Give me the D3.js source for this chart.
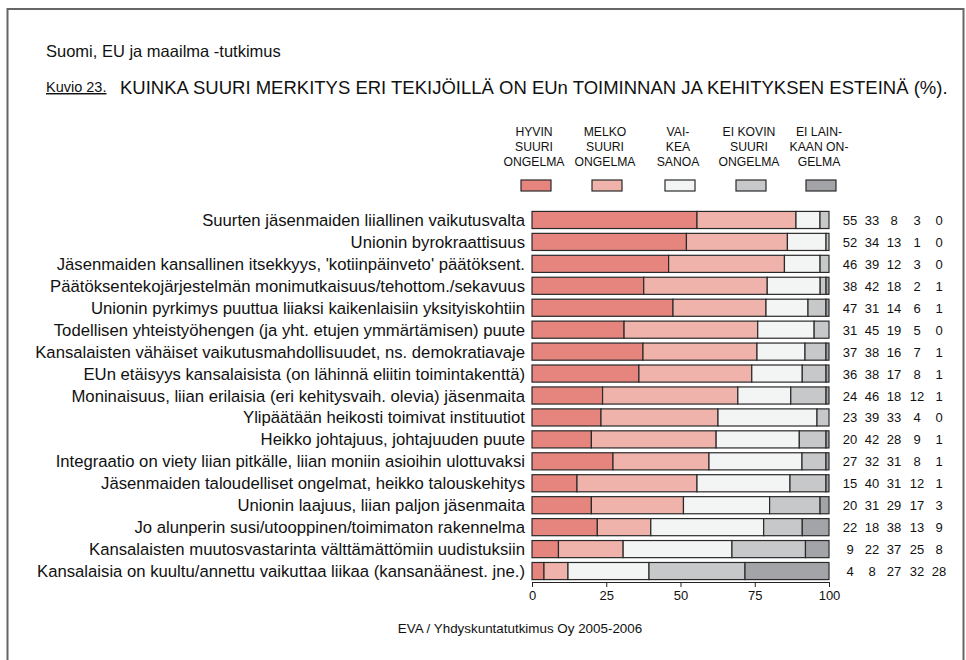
<!DOCTYPE html>
<html>
<head>
<meta charset="utf-8">
<script src="https://cdn.jsdelivr.net/npm/d3@7"></script>
<style>
  body { margin: 0; background: #fff; }
  text { font-family: "Liberation Sans", Arial, sans-serif; fill: #111; }
</style>
</head>
<body>
<script>
// values (%)
const categories = [
  "Suurten jäsenmaiden liiallinen vaikutusvalta",
  "Unionin byrokraattisuus",
  "Jäsenmaiden kansallinen itsekkyys, 'kotiinpäinveto' päätöksent.",
  "Päätöksentekojärjestelmän monimutkaisuus/tehottom./sekavuus",
  "Unionin pyrkimys puuttua liiaksi kaikenlaisiin yksityiskohtiin",
  "Todellisen yhteistyöhengen (ja yht. etujen ymmärtämisen) puute",
  "Kansalaisten vähäiset vaikutusmahdollisuudet, ns. demokratiavaje",
  "EUn etäisyys kansalaisista (on lähinnä eliitin toimintakenttä)",
  "Moninaisuus, liian erilaisia (eri kehitysvaih. olevia) jäsenmaita",
  "Ylipäätään heikosti toimivat instituutiot",
  "Heikko johtajuus, johtajuuden puute",
  "Integraatio on viety liian pitkälle, liian moniin asioihin ulottuvaksi",
  "Jäsenmaiden taloudelliset ongelmat, heikko talouskehitys",
  "Unionin laajuus, liian paljon jäsenmaita",
  "Jo alunperin susi/utooppinen/toimimaton rakennelma",
  "Kansalaisten muutosvastarinta välttämättömiin uudistuksiin",
  "Kansalaisia on kuultu/annettu vaikuttaa liikaa (kansanäänest. jne.)"
]
const hyvinSuuri = [55, 52, 46, 38, 47, 31, 37, 36, 24, 23, 20, 27, 15, 20, 22, 9, 4]
const melkoSuuri = [33, 34, 39, 42, 31, 45, 38, 38, 46, 39, 42, 32, 40, 31, 18, 22, 8]
const vaikeaSanoa = [8, 13, 12, 18, 14, 19, 16, 17, 18, 33, 28, 31, 31, 29, 38, 37, 27]
const eiKovinSuuri = [3, 1, 3, 2, 6, 5, 7, 8, 12, 4, 9, 8, 12, 17, 13, 25, 32]
const eiLainkaan = [0, 0, 0, 1, 1, 0, 1, 1, 1, 0, 1, 1, 1, 3, 9, 8, 28]
const seriesLabels = [
  ["HYVIN", "SUURI", "ONGELMA"],
  ["MELKO", "SUURI", "ONGELMA"],
  ["VAI-", "KEA", "SANOA"],
  ["EI KOVIN", "SUURI", "ONGELMA"],
  ["EI LAIN-", "KAAN ON-", "GELMA"]
]
const xTicks = [0, 25, 50, 75, 100]

const colors = ["#e5857e", "#f0b3ab", "#f3f5f4", "#c7c8ca", "#a3a4a7"]
const series = [hyvinSuuri, melkoSuuri, vaikeaSanoa, eiKovinSuuri, eiLainkaan]

const m = { width: 966, height: 660 }

const svg = d3.select("body").append("svg")
    .attr("width", m.width)
    .attr("height", m.height)

// page frame
svg.append("rect")
    .attr("x", 7.5).attr("y", 9)
    .attr("width", 956).attr("height", 700)
    .attr("fill", "none")
    .attr("stroke", "#666")
    .attr("stroke-width", 2)

svg.append("text")
    .attr("x", 46).attr("y", 57)
    .attr("font-size", "16.5px")
    .text("Suomi, EU ja maailma -tutkimus")

svg.append("text")
    .attr("x", 46).attr("y", 92)
    .attr("font-size", "14.5px")
    .attr("text-decoration", "underline")
    .text("Kuvio 23.")

svg.append("text")
    .attr("x", 120).attr("y", 94)
    .attr("font-size", "18.5px")
    .text("KUINKA SUURI MERKITYS ERI TEKIJÖILLÄ ON EUn TOIMINNAN JA KEHITYKSEN ESTEINÄ (%).")

// scales
const x = d3.scaleLinear().domain([0, 100]).range([532, 829])
const y = d3.scaleBand()
    .domain(categories)
    .range([209, 582])
    .paddingInner(0.22)
    .paddingOuter(0.11)

// stacked rows, scaled so each row fills 0..100
const rows = categories.map(function(c, i) {
  const vals = series.map(s => s[i])
  const total = d3.sum(vals)
  let acc = 0
  return vals.map(function(v, k) {
    const seg = { cat: c, k: k, v: v, x0: acc / total * 100, x1: (acc + v) / total * 100 }
    acc += v
    return seg
  })
})

const g = svg.append("g")

g.selectAll(".row")
    .data(rows)
    .enter()
    .append("g")
    .selectAll("rect")
    .data(d => d)
    .enter()
    .append("rect")
        .attr("x", d => x(d.x0))
        .attr("y", d => y(d.cat))
        .attr("width", d => x(d.x1) - x(d.x0))
        .attr("height", y.bandwidth())
        .attr("fill", d => colors[d.k])
        .attr("stroke", "#2a2a2a")
        .attr("stroke-width", 1.2)

// category labels
g.selectAll(".lab")
    .data(categories)
    .enter()
    .append("text")
        .attr("x", 525)
        .attr("y", d => y(d) + y.bandwidth() / 2 + 6)
        .attr("text-anchor", "end")
        .attr("font-size", "16.7px")
        .text(d => d)

// numbers at the right
const numX = [850, 872, 894, 917, 939]
rows.forEach(function(r) {
  g.selectAll(null)
    .data(r)
    .enter()
    .append("text")
        .attr("x", d => numX[d.k])
        .attr("y", d => y(d.cat) + y.bandwidth() / 2 + 5)
        .attr("text-anchor", "middle")
        .attr("font-size", "13px")
        .text(d => d.v)
})

// axis
const axis = svg.append("g")
    .attr("transform", "translate(0,582)")
    .call(d3.axisBottom(x).tickValues(xTicks).tickSize(5).tickSizeOuter(0))
axis.select(".domain").attr("stroke", "#222")
axis.selectAll(".tick line").attr("stroke", "#222")
axis.selectAll(".tick text")
    .attr("font-size", "13px")
    .attr("font-family", "Liberation Sans, Arial, sans-serif")
    .attr("fill", "#111")
    .attr("dy", "0.71em")
    .attr("y", 9)

// legend
const legX = [536, 607, 680, 751, 821]
const leg = svg.append("g")
seriesLabels.forEach(function(lines, k) {
  leg.selectAll(null)
    .data(lines)
    .enter()
    .append("text")
        .attr("x", legX[k] - 2)
        .attr("y", (d, i) => 136 + i * 15)
        .attr("text-anchor", "middle")
        .attr("font-size", "12.2px")
        .text(d => d)
})
leg.selectAll("rect")
    .data(colors)
    .enter()
    .append("rect")
        .attr("x", (d, k) => legX[k] - 15)
        .attr("y", 180)
        .attr("width", 30)
        .attr("height", 11)
        .attr("fill", d => d)
        .attr("stroke", "#2a2a2a")
        .attr("stroke-width", 1.2)

svg.append("text")
    .attr("x", 520).attr("y", 633)
    .attr("text-anchor", "middle")
    .attr("font-size", "13.4px")
    .text("EVA / Yhdyskuntatutkimus Oy 2005-2006")
</script>
</body>
</html>
